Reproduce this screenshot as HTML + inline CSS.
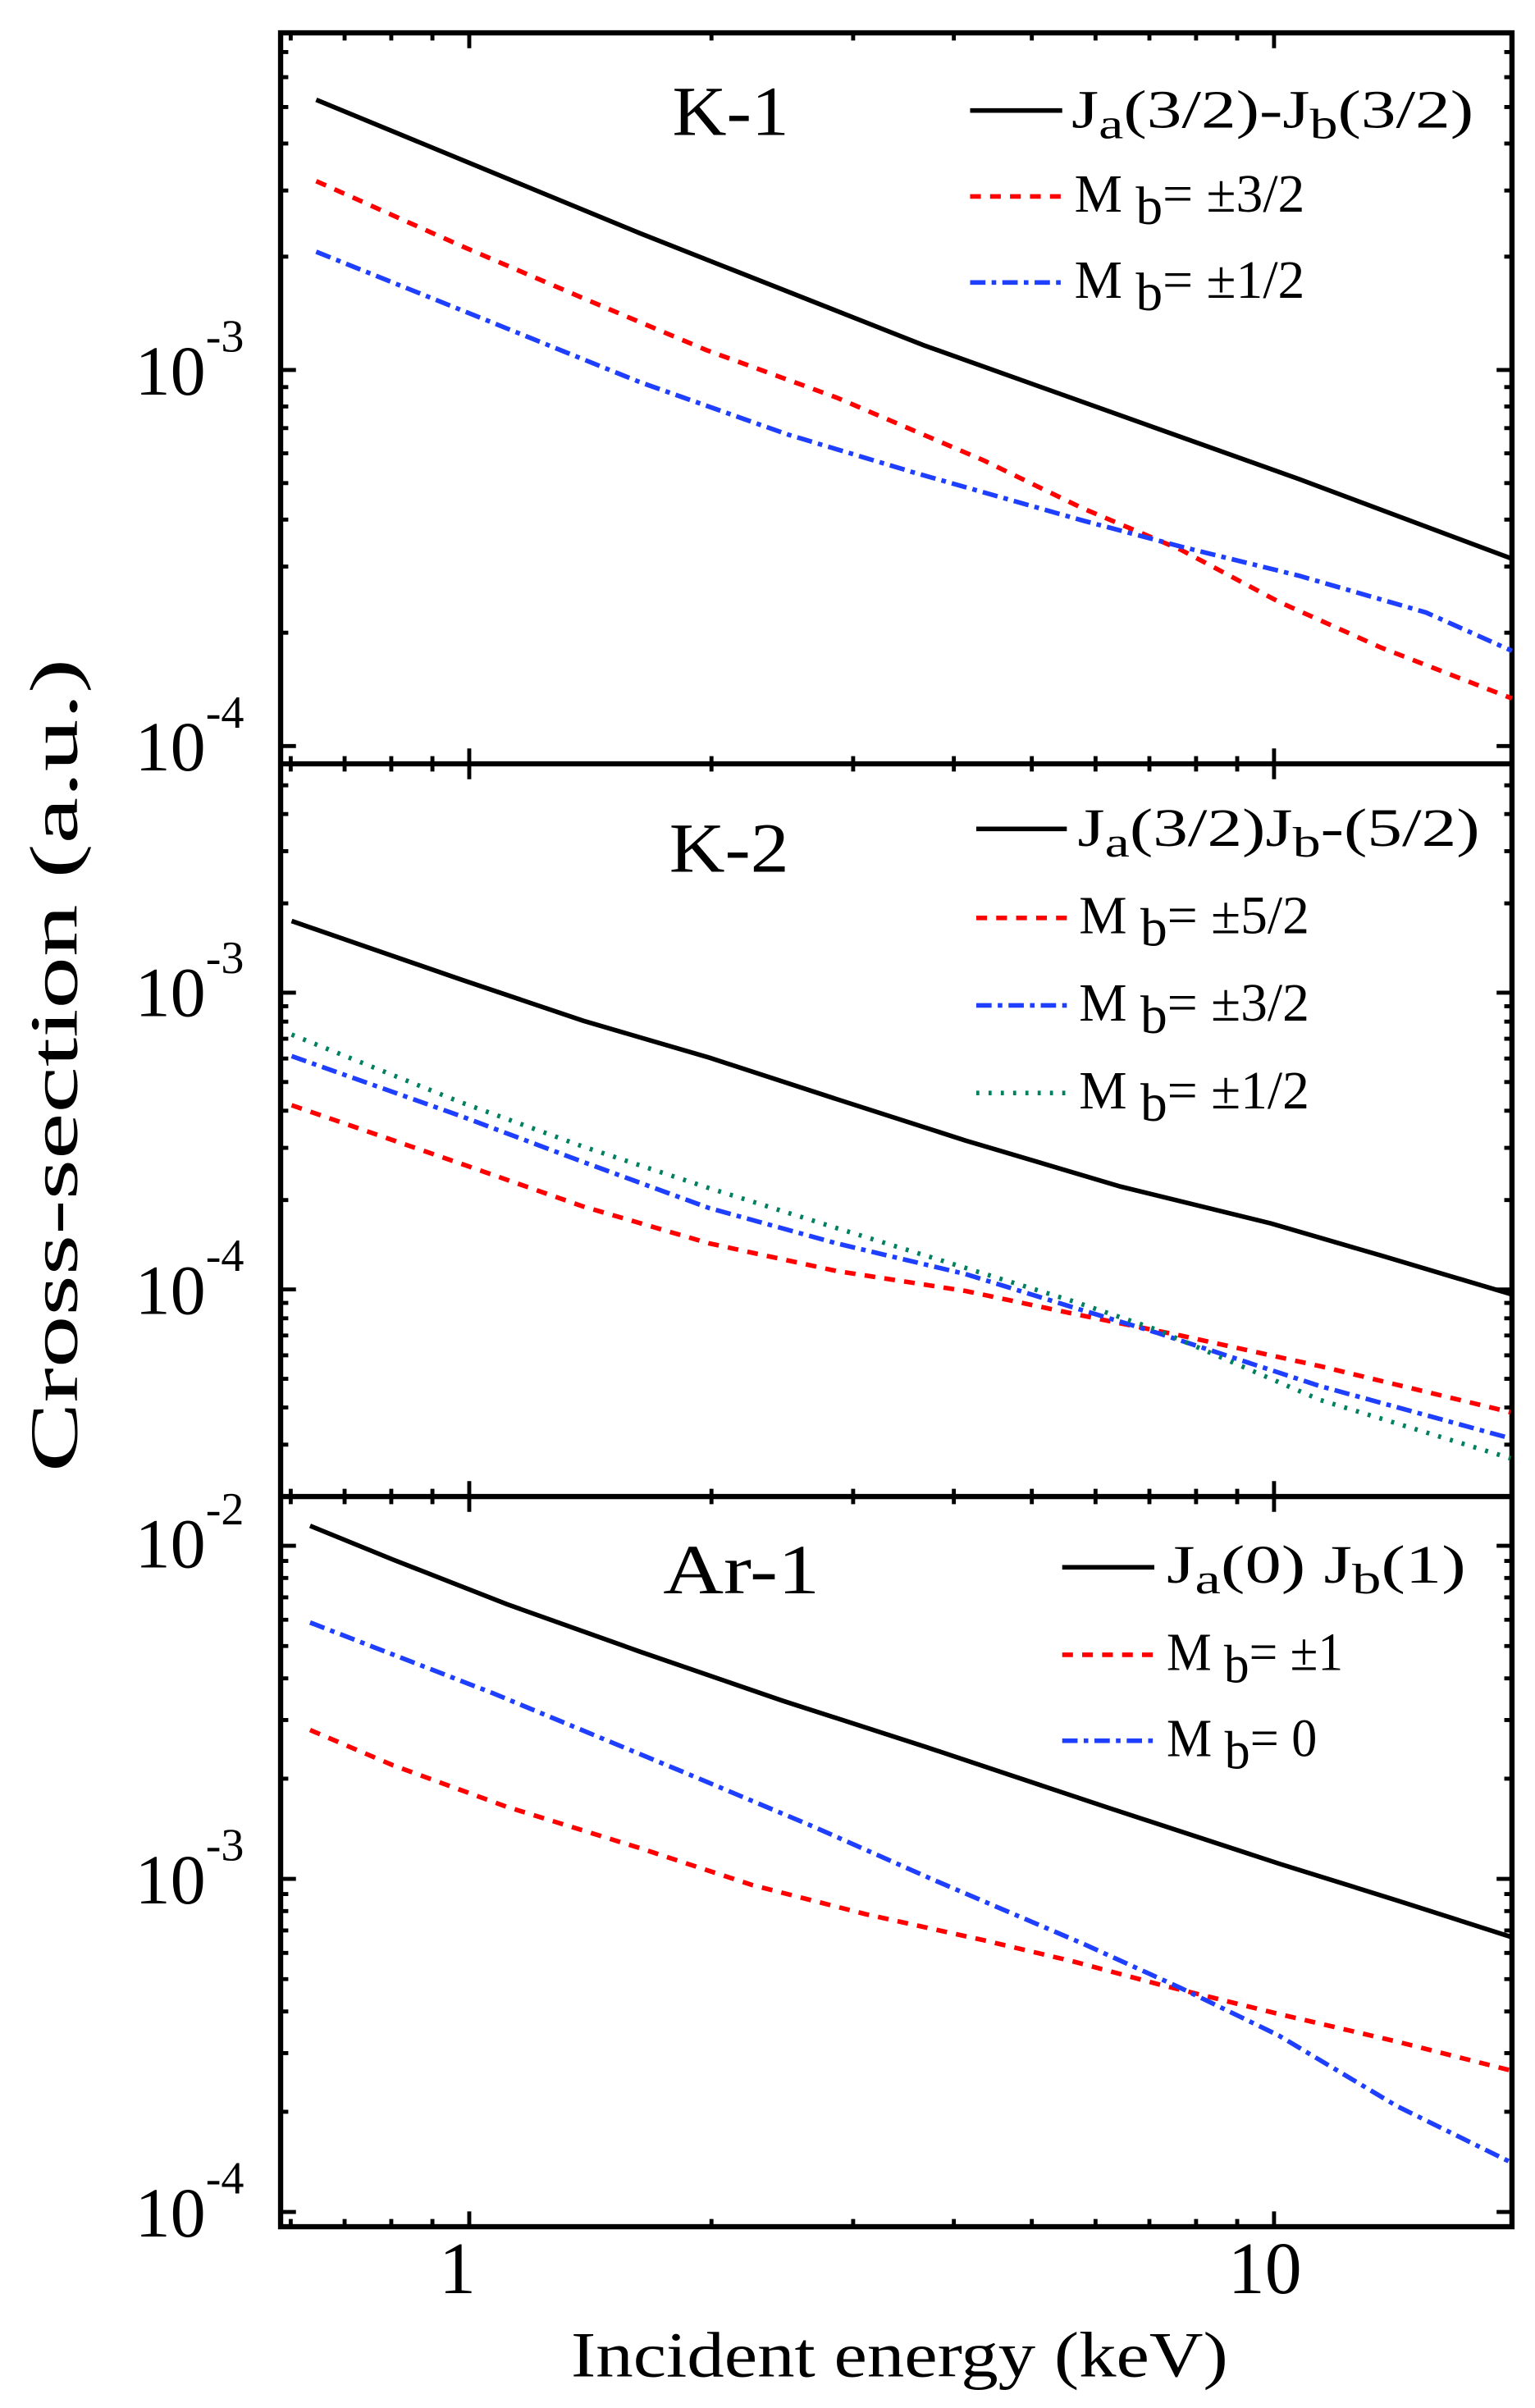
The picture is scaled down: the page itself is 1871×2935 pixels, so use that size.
<!DOCTYPE html>
<html><head><meta charset="utf-8"><style>
html,body{margin:0;padding:0;background:#fff;}
svg{display:block;}
text{font-family:"Liberation Serif",serif;fill:#000;}
</style></head><body>
<svg width="1871" height="2935" viewBox="0 0 1000 1568.7" xmlns="http://www.w3.org/2000/svg">
<g stroke="#000" stroke-width="2.6" fill="none">
<path d="M189.4 497.6v-5M224.5 497.6v-5M254.9 497.6v-5M281.7 497.6v-5M305.7 497.6v-10M463.5 497.6v-5M555.8 497.6v-5M621.4 497.6v-5M672.2 497.6v-5M713.7 497.6v-5M748.8 497.6v-5M779.2 497.6v-5M806 497.6v-5M830 497.6v-10
M189.4 974.9v-5M224.5 974.9v-5M254.9 974.9v-5M281.7 974.9v-5M305.7 974.9v-10M463.5 974.9v-5M555.8 974.9v-5M621.4 974.9v-5M672.2 974.9v-5M713.7 974.9v-5M748.8 974.9v-5M779.2 974.9v-5M806 974.9v-5M830 974.9v-10
M189.4 1450.6v-5M224.5 1450.6v-5M254.9 1450.6v-5M281.7 1450.6v-5M305.7 1450.6v-10M463.5 1450.6v-5M555.8 1450.6v-5M621.4 1450.6v-5M672.2 1450.6v-5M713.7 1450.6v-5M748.8 1450.6v-5M779.2 1450.6v-5M806 1450.6v-5M830 1450.6v-10
M189.4 21.4v5M224.5 21.4v5M254.9 21.4v5M281.7 21.4v5M305.7 21.4v10M463.5 21.4v5M555.8 21.4v5M621.4 21.4v5M672.2 21.4v5M713.7 21.4v5M748.8 21.4v5M779.2 21.4v5M806 21.4v5M830 21.4v10
M189.4 497.6v5M224.5 497.6v5M254.9 497.6v5M281.7 497.6v5M305.7 497.6v10M463.5 497.6v5M555.8 497.6v5M621.4 497.6v5M672.2 497.6v5M713.7 497.6v5M748.8 497.6v5M779.2 497.6v5M806 497.6v5M830 497.6v10
M189.4 974.9v5M224.5 974.9v5M254.9 974.9v5M281.7 974.9v5M305.7 974.9v10M463.5 974.9v5M555.8 974.9v5M621.4 974.9v5M672.2 974.9v5M713.7 974.9v5M748.8 974.9v5M779.2 974.9v5M806 974.9v5M830 974.9v10"/>
<path id="ymaj" d="M182.8 241h10M182.8 486h10M182.8 646.7h10M182.8 840h10M182.8 1007h10M182.8 1224h10M182.8 1441h10
M985 241h-10M985 486h-10M985 646.7h-10M985 840h-10M985 1007h-10M985 1224h-10M985 1441h-10"/>
<path d="M182.8 412.2h5M182.8 369.1h5M182.8 338.5h5M182.8 314.7h5M182.8 295.3h5M182.8 278.9h5M182.8 264.8h5M182.8 252.2h5M182.8 167.2h5M182.8 124.1h5M182.8 93.5h5M182.8 69.7h5M182.8 50.3h5M182.8 33.9h5
M182.8 941.1h5M182.8 916.9h5M182.8 898.2h5M182.8 882.9h5M182.8 870h5M182.8 858.8h5M182.8 848.8h5M182.8 781.8h5M182.8 747.8h5M182.8 723.6h5M182.8 704.9h5M182.8 689.6h5M182.8 676.7h5M182.8 665.5h5M182.8 655.5h5M182.8 588.5h5M182.8 554.5h5M182.8 530.3h5M182.8 511.6h5
M182.8 1375.7h5M182.8 1337.5h5M182.8 1310.4h5M182.8 1289.3h5M182.8 1272.2h5M182.8 1257.6h5M182.8 1245h5M182.8 1233.9h5M182.8 1158.7h5M182.8 1120.5h5M182.8 1093.4h5M182.8 1072.3h5M182.8 1055.2h5M182.8 1040.6h5M182.8 1028h5M182.8 1016.9h5
M985 412.2h-5M985 369.1h-5M985 338.5h-5M985 314.7h-5M985 295.3h-5M985 278.9h-5M985 264.8h-5M985 252.2h-5M985 167.2h-5M985 124.1h-5M985 93.5h-5M985 69.7h-5M985 50.3h-5M985 33.9h-5
M985 941.1h-5M985 916.9h-5M985 898.2h-5M985 882.9h-5M985 870h-5M985 858.8h-5M985 848.8h-5M985 781.8h-5M985 747.8h-5M985 723.6h-5M985 704.9h-5M985 689.6h-5M985 676.7h-5M985 665.5h-5M985 655.5h-5M985 588.5h-5M985 554.5h-5M985 530.3h-5M985 511.6h-5
M985 1375.7h-5M985 1337.5h-5M985 1310.4h-5M985 1289.3h-5M985 1272.2h-5M985 1257.6h-5M985 1245h-5M985 1233.9h-5M985 1158.7h-5M985 1120.5h-5M985 1093.4h-5M985 1072.3h-5M985 1055.2h-5M985 1040.6h-5M985 1028h-5M985 1016.9h-5"/>
</g>
<g fill="none" stroke="#000" stroke-width="3.4">
<rect x="182.8" y="21.4" width="802.2" height="1429.2"/>
<line x1="182.8" y1="497.6" x2="985" y2="497.6"/>
<line x1="182.8" y1="974.9" x2="985" y2="974.9"/>
</g>
<g fill="none" stroke-width="3">
<polyline stroke="#000" points="206,65 417,152 602,225 846,312 985,364"/>
<polyline stroke="#f00" stroke-dasharray="7,6" points="206,118 300,160 384,196 460,228 545,259 641,300 705,331 769,358 833,392 900,422 985,455"/>
<polyline stroke="#1f3fff" stroke-dasharray="10,4,3,4" points="206,164 308,205 417,249 513,283 596,308 705,339 769,356 846,375 929,399 985,424"/>
<polyline stroke="#000" points="190,600 300,638 380,665 462,689 545,716 629,743 730,773 828,797 900,818 984,843"/>
<polyline stroke="#f00" stroke-dasharray="7,6" points="190,720 300,758 380,786 462,810 545,828 629,841 700,856 769,870 860,890 984,920"/>
<polyline stroke="#1f3fff" stroke-dasharray="10,4,3,4" points="190,688 300,727 380,757 462,787 545,810 629,830 700,852 753,868 860,903 984,937"/>
<polyline stroke="#008060" stroke-dasharray="2,6" points="190,674 300,718 380,747 462,774 545,800 629,826 700,848 753,866 860,912 984,950"/>
<polyline stroke="#000" points="202,994 256,1016 330,1045 417,1076 510,1108 603,1138 720,1177 833,1214 910,1238 985,1262"/>
<polyline stroke="#f00" stroke-dasharray="7,6" points="202,1127 256,1150 330,1177 417,1204 490,1228 564,1247 641,1264 700,1278 756,1293 833,1312 910,1330 985,1349"/>
<polyline stroke="#1f3fff" stroke-dasharray="10,4,3,4" points="202,1057 321,1103 449,1156 530,1190 609,1225 705,1266 769,1295 833,1326 910,1372 985,1409"/>
</g>
<g stroke-width="3" fill="none">
<line x1="632" y1="72" x2="692" y2="72" stroke="#000"/>
<line x1="632" y1="128" x2="692" y2="128" stroke="#f00" stroke-dasharray="7,6"/>
<line x1="632" y1="184" x2="692" y2="184" stroke="#1f3fff" stroke-dasharray="10,4,3,4"/>
<line x1="636" y1="540" x2="695" y2="540" stroke="#000"/>
<line x1="636" y1="598" x2="695" y2="598" stroke="#f00" stroke-dasharray="7,6"/>
<line x1="636" y1="655" x2="695" y2="655" stroke="#1f3fff" stroke-dasharray="10,4,3,4"/>
<line x1="636" y1="712" x2="695" y2="712" stroke="#008060" stroke-dasharray="2,6"/>
<line x1="692" y1="1021" x2="752" y2="1021" stroke="#000"/>
<line x1="692" y1="1078" x2="752" y2="1078" stroke="#f00" stroke-dasharray="7,6"/>
<line x1="692" y1="1134" x2="752" y2="1134" stroke="#1f3fff" stroke-dasharray="10,4,3,4"/>
</g>
<g font-size="35">
<text x="698" y="83" textLength="262" lengthAdjust="spacingAndGlyphs">J<tspan font-size="28" dy="7">a</tspan><tspan dy="-7">(3/2)-J</tspan><tspan font-size="28" dy="7">b</tspan><tspan dy="-7">(3/2)</tspan></text>
<text x="700" y="138" textLength="150" lengthAdjust="spacingAndGlyphs">M <tspan dy="8">b</tspan><tspan dy="-8">= ±3/2</tspan></text>
<text x="700" y="194" textLength="150" lengthAdjust="spacingAndGlyphs">M <tspan dy="8">b</tspan><tspan dy="-8">= ±1/2</tspan></text>
<text x="702" y="551" textLength="262" lengthAdjust="spacingAndGlyphs">J<tspan font-size="28" dy="7">a</tspan><tspan dy="-7">(3/2)J</tspan><tspan font-size="28" dy="7">b</tspan><tspan dy="-7">-(5/2)</tspan></text>
<text x="703" y="608" textLength="150" lengthAdjust="spacingAndGlyphs">M <tspan dy="8">b</tspan><tspan dy="-8">= ±5/2</tspan></text>
<text x="703" y="665" textLength="150" lengthAdjust="spacingAndGlyphs">M <tspan dy="8">b</tspan><tspan dy="-8">= ±3/2</tspan></text>
<text x="703" y="722" textLength="150" lengthAdjust="spacingAndGlyphs">M <tspan dy="8">b</tspan><tspan dy="-8">= ±1/2</tspan></text>
<text x="760" y="1031" textLength="195" lengthAdjust="spacingAndGlyphs">J<tspan font-size="28" dy="7">a</tspan><tspan dy="-7">(0) J</tspan><tspan font-size="28" dy="7">b</tspan><tspan dy="-7">(1)</tspan></text>
<text x="760" y="1088" textLength="115" lengthAdjust="spacingAndGlyphs">M <tspan dy="8">b</tspan><tspan dy="-8">= ±1</tspan></text>
<text x="760" y="1144" textLength="98" lengthAdjust="spacingAndGlyphs">M <tspan dy="8">b</tspan><tspan dy="-8">= 0</tspan></text>
</g>
<g font-size="46">
<text x="438" y="88" textLength="76" lengthAdjust="spacingAndGlyphs">K-1</text>
<text x="436" y="568" textLength="78" lengthAdjust="spacingAndGlyphs">K-2</text>
<text x="432" y="1038" textLength="102" lengthAdjust="spacingAndGlyphs">Ar-1</text>
</g>
<g font-size="46">
<text x="88" y="257">10<tspan font-size="30" dy="-28">-3</tspan></text>
<text x="88" y="502">10<tspan font-size="30" dy="-28">-4</tspan></text>
<text x="88" y="662">10<tspan font-size="30" dy="-28">-3</tspan></text>
<text x="88" y="856">10<tspan font-size="30" dy="-28">-4</tspan></text>
<text x="88" y="1021">10<tspan font-size="30" dy="-28">-2</tspan></text>
<text x="88" y="1240">10<tspan font-size="30" dy="-28">-3</tspan></text>
<text x="88" y="1457">10<tspan font-size="30" dy="-28">-4</tspan></text>
<text x="298" y="1494" font-size="48" text-anchor="middle">1</text>
<text x="824" y="1494" font-size="48" text-anchor="middle">10</text>
<text x="586" y="1548" font-size="42" text-anchor="middle" textLength="428" lengthAdjust="spacingAndGlyphs">Incident energy (keV)</text>
<text transform="translate(50,694) rotate(-90)" font-size="44" text-anchor="middle" textLength="530" lengthAdjust="spacingAndGlyphs">Cross-section (a.u.)</text>
</g>
</svg>
</body></html>
